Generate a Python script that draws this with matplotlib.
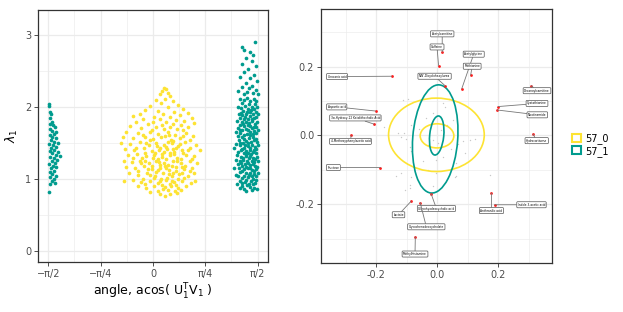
import numpy as np
import matplotlib
matplotlib.use("Agg")
import matplotlib.pyplot as plt
from matplotlib.patches import Ellipse, Patch

# --- left panel: angle vs lambda_1 ---
yellow_pts = [
    (0.16, 2.27), (0.20, 2.25), (0.14, 2.22), (0.22, 2.20), (0.10, 2.18), (0.26, 2.16), (0.18, 2.12),
    (0.05, 2.10), (0.30, 2.08), (0.12, 2.06), (0.38, 2.03), (-0.05, 2.02), (0.22, 2.00), (0.45, 1.98),
    (-0.12, 1.96), (0.08, 1.95), (0.32, 1.94), (0.52, 1.92), (-0.20, 1.90), (0.15, 1.90), (0.40, 1.89),
    (-0.30, 1.88), (0.02, 1.87), (0.25, 1.86), (0.58, 1.85), (-0.15, 1.84), (0.10, 1.83), (0.35, 1.82),
    (0.47, 1.81), (-0.25, 1.80), (0.00, 1.80), (0.20, 1.79), (0.62, 1.78), (-0.08, 1.77), (0.30, 1.77),
    (0.42, 1.76), (0.13, 1.75), (-0.35, 1.74), (0.05, 1.73), (0.25, 1.72), (0.53, 1.72), (-0.18, 1.71),
    (0.36, 1.70), (0.16, 1.70), (-0.02, 1.69), (0.45, 1.68),
    (-0.40, 1.66), (-0.22, 1.64), (-0.05, 1.65), (0.08, 1.63), (0.22, 1.66), (0.33, 1.62), (0.50, 1.64),
    (0.60, 1.60), (-0.45, 1.58), (-0.30, 1.57), (-0.12, 1.59), (0.00, 1.56), (0.12, 1.58), (0.27, 1.55),
    (0.40, 1.57), (0.55, 1.55), (0.18, 1.60), (-0.48, 1.50), (-0.35, 1.49), (-0.20, 1.52), (-0.06, 1.48),
    (0.05, 1.51), (0.16, 1.47), (0.28, 1.50), (0.38, 1.46), (0.48, 1.52), (0.65, 1.48), (0.10, 1.44),
    (-0.42, 1.42), (-0.28, 1.40), (-0.14, 1.43), (-0.02, 1.39), (0.09, 1.41), (0.21, 1.42), (0.32, 1.38),
    (0.44, 1.41), (0.56, 1.43), (0.70, 1.40), (0.25, 1.36), (-0.38, 1.33), (-0.24, 1.35), (-0.10, 1.32),
    (0.02, 1.34), (0.14, 1.31), (0.26, 1.33), (0.36, 1.30), (0.50, 1.34), (0.62, 1.32), (-0.17, 1.29),
    (0.07, 1.28), (-0.44, 1.26), (-0.31, 1.24), (-0.20, 1.26), (-0.06, 1.23), (0.05, 1.25), (0.17, 1.22),
    (0.30, 1.26), (0.42, 1.23), (0.55, 1.25), (0.66, 1.22), (0.23, 1.20), (-0.40, 1.17), (-0.27, 1.15),
    (-0.14, 1.18), (-0.01, 1.14), (0.11, 1.16), (0.24, 1.13), (0.35, 1.17), (0.47, 1.14), (0.59, 1.16),
    (0.18, 1.19), (0.04, 1.10), (-0.36, 1.08), (-0.23, 1.06), (-0.09, 1.09), (0.03, 1.05), (0.15, 1.08),
    (0.28, 1.04), (0.39, 1.07), (0.52, 1.05), (0.62, 1.09), (0.21, 1.02), (-0.15, 1.01), (-0.44, 0.97),
    (-0.30, 0.99), (-0.18, 0.96), (-0.04, 0.98), (0.08, 0.95), (0.19, 0.99), (0.31, 0.96), (0.44, 0.98),
    (0.57, 0.95), (0.63, 0.97), (0.13, 0.92), (-0.22, 0.90), (-0.10, 0.88), (0.02, 0.91), (0.15, 0.87),
    (0.27, 0.90), (0.38, 0.88), (0.50, 0.91), (0.22, 0.85), (0.08, 0.84), (0.33, 0.83),
    (0.10, 0.80), (0.26, 0.79), (0.36, 0.81), (0.18, 0.77), (0.42, 0.85), (-0.05, 0.82),
    (-0.05, 1.55), (0.30, 1.53), (0.42, 1.28), (0.10, 1.20), (0.34, 1.12), (-0.08, 1.14), (0.20, 1.45),
    (0.45, 1.36), (0.00, 1.30), (0.28, 1.19), (0.12, 1.00), (0.38, 1.01), (-0.12, 1.37), (0.16, 1.38),
    (0.48, 1.19), (0.06, 1.46), (0.35, 1.43), (-0.18, 1.22), (0.25, 0.94), (0.01, 1.02), (0.44, 1.09),
    (0.20, 1.28), (-0.02, 1.19), (0.32, 1.35),
    (-0.10, 1.50), (0.22, 1.52), (0.40, 1.49), (-0.25, 1.44), (0.13, 1.35), (0.30, 1.42), (0.52, 1.40),
    (-0.30, 1.30), (0.09, 1.24), (0.36, 1.25), (0.58, 1.28), (-0.12, 1.26), (0.20, 1.15), (0.43, 1.17),
    (-0.22, 1.12), (0.07, 1.13), (0.30, 1.09), (0.55, 1.11), (-0.05, 1.06), (0.24, 1.07), (0.46, 1.02),
    (0.10, 0.97), (0.35, 0.92), (-0.12, 0.94), (0.18, 0.89), (0.28, 0.98), (0.03, 1.37), (0.24, 1.62),
    (0.45, 1.60), (-0.15, 1.62),
]

teal_right_pts = [
    (1.53, 2.91), (1.34, 2.84), (1.37, 2.80), (1.45, 2.76), (1.50, 2.72), (1.40, 2.68), (1.48, 2.64),
    (1.33, 2.60), (1.55, 2.57), (1.43, 2.53), (1.36, 2.49), (1.52, 2.45), (1.30, 2.42), (1.46, 2.40),
    (1.56, 2.37), (1.39, 2.34), (1.49, 2.30), (1.33, 2.28), (1.44, 2.26), (1.54, 2.24), (1.28, 2.22),
    (1.41, 2.21), (1.50, 2.20), (1.36, 2.19), (1.57, 2.18),
    (1.30, 2.12), (1.36, 2.10), (1.41, 2.13), (1.46, 2.09), (1.51, 2.11), (1.55, 2.08), (1.33, 2.06),
    (1.44, 2.05), (1.53, 2.04), (1.27, 2.01), (1.32, 1.99), (1.38, 2.02), (1.43, 1.98), (1.48, 2.00),
    (1.52, 1.97), (1.56, 2.01), (1.35, 1.95), (1.46, 1.94), (1.41, 1.93), (1.29, 1.91), (1.34, 1.89),
    (1.39, 1.90), (1.45, 1.88), (1.50, 1.91), (1.54, 1.87), (1.57, 1.90), (1.31, 1.85), (1.42, 1.84),
    (1.48, 1.84), (1.37, 1.83), (1.26, 1.81), (1.33, 1.79), (1.40, 1.80), (1.44, 1.78), (1.49, 1.81),
    (1.53, 1.77), (1.56, 1.80), (1.30, 1.75), (1.36, 1.74), (1.46, 1.74), (1.51, 1.73), (1.28, 1.71),
    (1.34, 1.69), (1.39, 1.70), (1.43, 1.68), (1.48, 1.71), (1.52, 1.67), (1.57, 1.69), (1.24, 1.66),
    (1.31, 1.64), (1.41, 1.63), (1.55, 1.64), (1.46, 1.62), (1.27, 1.60), (1.33, 1.58), (1.37, 1.61),
    (1.44, 1.57), (1.50, 1.59), (1.54, 1.56), (1.29, 1.54), (1.40, 1.53), (1.47, 1.52), (1.56, 1.52),
    (1.35, 1.50), (1.25, 1.49), (1.31, 1.47), (1.38, 1.48), (1.43, 1.46), (1.49, 1.48), (1.53, 1.45),
    (1.57, 1.47), (1.22, 1.43), (1.34, 1.42), (1.45, 1.41), (1.51, 1.40), (1.40, 1.39), (1.28, 1.38),
    (1.36, 1.36), (1.42, 1.37), (1.47, 1.35), (1.54, 1.36), (1.26, 1.33), (1.32, 1.31), (1.39, 1.32),
    (1.50, 1.30), (1.56, 1.31), (1.44, 1.29), (1.24, 1.27), (1.30, 1.26), (1.35, 1.27), (1.41, 1.25),
    (1.48, 1.26), (1.52, 1.24), (1.57, 1.26), (1.27, 1.21), (1.38, 1.21), (1.45, 1.20), (1.53, 1.19),
    (1.33, 1.18), (1.21, 1.16), (1.29, 1.15), (1.36, 1.14), (1.42, 1.16), (1.49, 1.13), (1.55, 1.14),
    (1.31, 1.10), (1.40, 1.09), (1.46, 1.08), (1.52, 1.07), (1.25, 1.06), (1.57, 1.09), (1.28, 1.04),
    (1.34, 1.02), (1.43, 1.03), (1.50, 1.01), (1.55, 0.99), (1.30, 0.97), (1.38, 0.96), (1.47, 0.97),
    (1.53, 0.95), (1.26, 0.93), (1.41, 0.92), (1.33, 0.90), (1.45, 0.89), (1.52, 0.88), (1.36, 0.86),
    (1.49, 0.85), (1.56, 0.86), (1.39, 0.84), (1.30, 0.88),
    (1.32, 1.92), (1.47, 1.96), (1.55, 1.93), (1.38, 1.86), (1.51, 1.85), (1.35, 1.77), (1.42, 1.75),
    (1.55, 1.73), (1.31, 1.68), (1.45, 1.66), (1.50, 1.63), (1.37, 1.56), (1.52, 1.54), (1.42, 1.51),
    (1.30, 1.51), (1.46, 1.44), (1.55, 1.42), (1.37, 1.43), (1.32, 1.40), (1.50, 1.38), (1.40, 1.35),
    (1.45, 1.32), (1.35, 1.30), (1.53, 1.28), (1.43, 1.23), (1.32, 1.23), (1.50, 1.21), (1.56, 1.17),
    (1.39, 1.17), (1.46, 1.15), (1.34, 1.12), (1.52, 1.11), (1.44, 1.06), (1.37, 1.05), (1.48, 1.04),
    (1.55, 1.04), (1.40, 0.99), (1.33, 0.95), (1.50, 0.93), (1.44, 0.94),
]

teal_left_pts = [
    (-1.56, 2.05), (-1.56, 2.02), (-1.55, 1.93), (-1.53, 1.90), (-1.55, 1.85), (-1.51, 1.80), (-1.54, 1.77),
    (-1.50, 1.75), (-1.47, 1.72), (-1.55, 1.70), (-1.52, 1.67), (-1.45, 1.66), (-1.49, 1.63), (-1.55, 1.61),
    (-1.51, 1.59), (-1.46, 1.57), (-1.53, 1.55), (-1.48, 1.52), (-1.42, 1.50), (-1.56, 1.49), (-1.50, 1.47),
    (-1.45, 1.45), (-1.53, 1.43), (-1.48, 1.41), (-1.55, 1.39), (-1.43, 1.38), (-1.51, 1.36), (-1.46, 1.34),
    (-1.40, 1.32), (-1.54, 1.31), (-1.49, 1.29), (-1.44, 1.27), (-1.52, 1.25), (-1.47, 1.23), (-1.56, 1.21),
    (-1.50, 1.19), (-1.45, 1.17), (-1.53, 1.15), (-1.48, 1.12), (-1.55, 1.10), (-1.51, 1.07), (-1.46, 1.05),
    (-1.54, 1.03), (-1.49, 1.00), (-1.52, 0.97), (-1.47, 0.95), (-1.55, 0.94), (-1.56, 0.82),
]

angle_ticks = [-np.pi / 2, -np.pi / 4, 0, np.pi / 4, np.pi / 2]
angle_labels = ["\u2212\u03c0/2", "\u2212\u03c0/4", "0", "\u03c0/4", "\u03c0/2"]

# --- right panel: loadings ---
grey_x = [-0.085, -0.109, -0.102, -0.091, -0.118, -0.134, -0.085, -0.091, -0.107, 0.068, 0.084, 0.106,
          0.122, 0.090, 0.062, 0.057, 0.171, -0.003, -0.031, -0.047, -0.112, -0.096, 0.038, 0.019, 0.024,
          -0.014, -0.036, 0.051, 0.013, -0.014, 0.002, -0.031, -0.118, -0.129, -0.173, -0.085, -0.091,
          -0.014, 0.062, 0.019, -0.003, 0.030, -0.060, 0.045]
grey_y = [0.031, 0.007, -0.010, -0.032, -0.109, -0.117, -0.119, -0.143, -0.157, -0.025, -0.017, -0.012,
          -0.010, -0.051, -0.080, -0.119, -0.114, -0.109, -0.099, -0.075, 0.103, 0.106, 0.106, 0.094, 0.082,
          0.065, 0.050, 0.045, 0.016, -0.012, -0.022, -0.027, -0.003, 0.007, 0.026, -0.046, -0.153,
          -0.146, -0.117, -0.061, -0.070, 0.030, 0.020, -0.040]

metab_names = ["Acetylcarnitine", "Caffeine", "Acetylglycine", "Methionine", "N,N'-Dicyclohexylurea",
               "Urocanic acid", "Aspartic acid", "3\u03b1-Hydroxy-12 Ketolithocholic Acid",
               "4-Methoxyphenylacetic acid", "Decanoylcarnitine", "Cystathionine", "Nicotinamide",
               "Hydrocortisone", "Fructose", "Glycohyodeoxycholic acid", "Lactate",
               "Glycochenodeoxycholate", "Methylhistamine", "Anthranilic acid", "Indole-3-acetic acid"]
metab_x = [0.016, 0.004, 0.080, 0.109, 0.026, -0.149, -0.202, -0.207, -0.282, 0.307, 0.199, 0.196,
           0.313, -0.186, -0.020, -0.086, -0.056, -0.072, 0.177, 0.187]
metab_y = [0.242, 0.203, 0.136, 0.175, 0.144, 0.172, 0.071, 0.033, 0.000, 0.145, 0.084, 0.074,
           0.004, -0.093, -0.170, -0.191, -0.195, -0.294, -0.167, -0.201]
label_x = [0.016, -0.001, 0.119, 0.114, -0.009, -0.328, -0.329, -0.268, -0.284, 0.326, 0.326, 0.327,
           0.325, -0.340, -0.003, -0.127, -0.036, -0.073, 0.177, 0.308]
label_y = [0.295, 0.257, 0.236, 0.201, 0.172, 0.171, 0.083, 0.051, -0.017, 0.130, 0.093, 0.060,
           -0.015, -0.093, -0.212, -0.230, -0.265, -0.344, -0.218, -0.201]

# ellipses: (x, y, width, height, angle)
ellipses_57_0 = [(-0.003, 0.002, 0.313, 0.213, 0), (-0.001, -0.001, 0.110, 0.070, 0)]
ellipses_57_1 = [(-0.007, -0.010, 0.147, 0.315, -5.1), (-0.002, 0.000, 0.046, 0.114, -6.6)]

groups = ["57_0", "57_1"]
col_yellow = "#FDE333"
col_teal = "#009B8E"

grid_col = "#EBEBEB"
tick_col = "#4D4D4D"


def style_axes(ax):
    ax.set_facecolor("white")
    for sp in ax.spines.values():
        sp.set_color("#333333")
        sp.set_linewidth(0.9)
    ax.grid(True, which="major", color=grid_col, lw=0.9, zorder=0)
    ax.grid(True, which="minor", color=grid_col, lw=0.45, zorder=0)
    ax.tick_params(which="major", length=2.8, width=0.6, color="#333333", labelsize=7, labelcolor=tick_col, pad=2)
    ax.tick_params(which="minor", length=0)
    ax.set_axisbelow(True)


fig = plt.figure(figsize=(6.23, 3.12), dpi=100)

# left
ax1 = fig.add_axes([0.061, 0.160, 0.369, 0.808])
style_axes(ax1)
for pts, c in [(yellow_pts, col_yellow), (teal_right_pts, col_teal), (teal_left_pts, col_teal)]:
    ax1.scatter([p[0] for p in pts], [p[1] for p in pts], s=7, color=c, lw=0, zorder=3)
ax1.set_xlim(-1.725, 1.725)
ax1.set_ylim(-0.15, 3.35)
ax1.set_xticks(angle_ticks)
ax1.set_xticklabels(angle_labels)
ax1.set_xticks([-3 * np.pi / 8, -np.pi / 8, np.pi / 8, 3 * np.pi / 8], minor=True)
ax1.set_yticks([0, 1, 2, 3])
ax1.set_yticks([0.5, 1.5, 2.5], minor=True)
ax1.set_xlabel(r"angle, acos( $\mathrm{U}_1^\mathrm{T}\mathrm{V}_1$ )", fontsize=9, labelpad=2)
ax1.set_ylabel(r"$\lambda_1$", fontsize=9, labelpad=4)

# right
ax2 = fig.add_axes([0.515, 0.156, 0.371, 0.815])
style_axes(ax2)
ax2.scatter(grey_x, grey_y, s=1.0, color="#C8C8C8", lw=0, zorder=2)
for ells, c in [(ellipses_57_0, col_yellow), (ellipses_57_1, col_teal)]:
    for (ex, ey, ew, eh, ea) in ells:
        ax2.add_patch(Ellipse((ex, ey), ew, eh, angle=ea, fill=False, edgecolor=c, lw=1.2, zorder=3))
ax2.scatter(metab_x, metab_y, s=4, color="#FF1A1A", lw=0, zorder=5)
for name, px, py, lx, ly in zip(metab_names, metab_x, metab_y, label_x, label_y):
    ax2.annotate(name, xy=(px, py), xytext=(lx, ly), fontsize=2.1, ha="center", va="center",
                 bbox=dict(boxstyle="round,pad=0.35,rounding_size=0.3", fc="white", ec="#555555", lw=0.5),
                 arrowprops=dict(arrowstyle="-", color="#777777", lw=0.6, shrinkA=0, shrinkB=0),
                 zorder=6)
ax2.set_xlim(-0.381, 0.375)
ax2.set_ylim(-0.371, 0.367)
ax2.set_xticks([-0.2, 0.0, 0.2])
ax2.set_xticklabels(["-0.2", "0.0", "0.2"])
ax2.set_xticks([-0.3, -0.1, 0.1, 0.3], minor=True)
ax2.set_yticks([-0.2, 0.0, 0.2])
ax2.set_yticklabels(["-0.2", "0.0", "0.2"])
ax2.set_yticks([-0.3, -0.1, 0.1, 0.3], minor=True)

handles = [Patch(facecolor="white", edgecolor=col_yellow, lw=1.5, label=groups[0]),
           Patch(facecolor="white", edgecolor=col_teal, lw=1.5, label=groups[1])]
fig.legend(handles=handles, loc="center left", bbox_to_anchor=(0.91, 0.535), frameon=False,
           fontsize=7, handlelength=0.9, handleheight=0.9, handletextpad=0.5, labelspacing=0.15,
           borderpad=0)

fig.savefig("out.png", dpi=100)
